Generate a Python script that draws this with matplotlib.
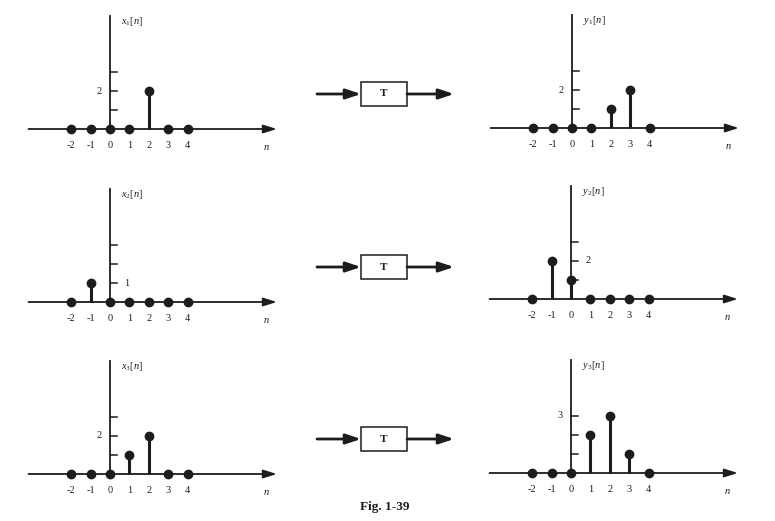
import matplotlib
matplotlib.use("Agg")
import matplotlib.pyplot as plt
from matplotlib.patches import Rectangle

plt.rcParams['font.family'] = ['Liberation Serif', 'DejaVu Serif']
plt.rcParams['mathtext.fontset'] = 'custom'
plt.rcParams['mathtext.rm'] = 'Liberation Serif'
plt.rcParams['mathtext.it'] = 'Liberation Serif:italic'

# sample index and the six sequences
n = [-2, -1, 0, 1, 2, 3, 4]
x1 = [0, 0, 0, 0, 2, 0, 0]
y1 = [0, 0, 0, 0, 1, 2, 0]
x2 = [0, 1, 0, 0, 0, 0, 0]
y2 = [0, 2, 1, 0, 0, 0, 0]
x3 = [0, 0, 0, 1, 2, 0, 0]
y3 = [0, 0, 0, 2, 3, 1, 0]

names = [r'$x_1[n]$', r'$y_1[n]$', r'$x_2[n]$', r'$y_2[n]$', r'$x_3[n]$', r'$y_3[n]$']
seqs = [x1, y1, x2, y2, x3, y3]
# labelled y tick: (value, side)
ylabels = [(2, 'left'), (2, 'left'), (1, 'right'), (2, 'right'), (2, 'left'), (3, 'left')]

W, H = 775, 521
col = '#1c1c1c'
fig = plt.figure(figsize=(W / 100, H / 100), dpi=100)

# overlay for the block diagrams and caption
bg = fig.add_axes([0, 0, 1, 1])
bg.set_xlim(0, W)
bg.set_ylim(H, 0)
bg.axis('off')
for yc in [94, 267, 439]:
    bg.annotate('', xy=(361, yc), xytext=(317, yc),
                arrowprops=dict(arrowstyle='-|>,head_length=0.9,head_width=0.3',
                                lw=2.0, color=col, shrinkA=0, shrinkB=0))
    bg.add_patch(Rectangle((361, yc - 12), 46, 24, fill=False, ec=col, lw=1.1))
    bg.text(384, yc, 'T', ha='center', va='center', fontsize=8, fontweight='bold', color=col)
    bg.annotate('', xy=(454, yc), xytext=(407, yc),
                arrowprops=dict(arrowstyle='-|>,head_length=0.9,head_width=0.3',
                                lw=2.0, color=col, shrinkA=0, shrinkB=0))
bg.text(385, 507, 'Fig. 1-39', ha='center', va='center', fontsize=9.5,
        fontweight='bold', color=col)

# pixel origins of each small plot
origins = [(110, 129), (572, 128), (110, 302), (571, 299), (110, 474), (571, 473)]
ux, uy = 19.4, 19.0
xlim = (-4.3, 8.8)
ylim = (-1.6, 6.2)

for (x0, y0), seq, name, (yl, side) in zip(origins, seqs, names, ylabels):
    left = x0 + xlim[0] * ux
    right = x0 + xlim[1] * ux
    top = y0 - ylim[1] * uy
    bottom = y0 - ylim[0] * uy
    ax = fig.add_axes([left / W, 1 - bottom / H, (right - left) / W, (bottom - top) / H])
    ax.set_xlim(xlim)
    ax.set_ylim(ylim)
    ax.axis('off')

    # axes
    ax.annotate('', xy=(8.6, 0), xytext=(-4.2, 0),
                arrowprops=dict(arrowstyle='-|>,head_length=0.8,head_width=0.25',
                                lw=1.3, color=col, shrinkA=0, shrinkB=0))
    ax.plot([0, 0], [0, 5.95], color=col, lw=1.3)
    for t in [1, 2, 3]:
        ax.plot([0, 0.38], [t, t], color=col, lw=1.1)

    # stems
    ax.vlines(n, 0, seq, color=col, lw=2.2)
    ax.plot(n, seq, 'o', color=col, ms=6, zorder=3)

    for k in n:
        ax.text(k, -0.85, str(k), ha='center', va='center', fontsize=7.5, color=col)
    ax.text(8.05, -0.95, r'$n$', ha='center', va='center', fontsize=7.5, color=col)
    ax.text(0.55, 5.65, name, ha='left', va='center', fontsize=7.5, color=col)
    if side == 'left':
        ax.text(-0.45, yl, str(yl), ha='right', va='center', fontsize=7.5, color=col)
    else:
        ax.text(0.75, yl, str(yl), ha='left', va='center', fontsize=7.5, color=col)

fig.savefig('out.png', dpi=100, facecolor='white')
